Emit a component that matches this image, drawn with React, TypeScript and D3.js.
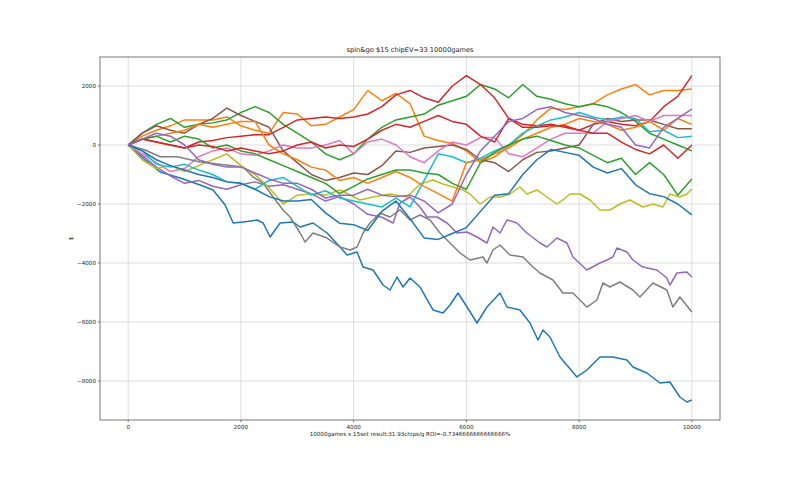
import React from "react";
import * as d3 from "d3";

const GAMES = [0,250,500,750,1000,1250,1500,1750,2000,2250,2500,2750,3000,3250,3500,3750,4000,4250,4500,4750,5000,5250,5500,5750,6000,6250,6500,6750,7000,7250,7500,7750,8000,8250,8500,8750,9000,9250,9500,9750,10000];

const BLUE_A_X = [0,300,567,922,1277,1507,1720,1862,2039,2287,2394,2518,2695,2926,3050,3280,3528,3759,3883,4060,4167,4344,4521,4645,4770,4876,5000,5177,5408,5585,5709,5851,6011,6188,6365,6596,6720,6950,7128,7270,7358,7482,7660,7961,8138,8369,8599,8848,8954,9202,9433,9610,9787,9911,10000];
const BLUE_A = [0,-510,-915,-1120,-1356,-1525,-2034,-2644,-2610,-2542,-2644,-3118,-2644,-2610,-2780,-2644,-2983,-3458,-3729,-3627,-4136,-4237,-4746,-4915,-4475,-4814,-4508,-4814,-5593,-5695,-5424,-5017,-5492,-6034,-5492,-5017,-5492,-5593,-6034,-6610,-6271,-6508,-7186,-7864,-7627,-7186,-7186,-7288,-7525,-7729,-8068,-8034,-8542,-8712,-8644];

const ORANGE_A = [0,300,500,650,850,850,850,950,650,500,400,1100,1050,650,700,950,1200,1850,1500,1750,1400,300,150,50,-200,-600,-400,-50,350,850,1250,1200,1300,1400,1700,1900,2050,1700,1850,1850,1900];
const GREEN_A = [0,400,700,900,600,700,750,850,1100,1300,1100,700,400,100,-300,-500,-300,200,600,850,950,1050,1350,1500,1650,2050,1900,1600,2050,1650,1550,1400,1300,1400,1300,1100,800,400,200,0,-200];
const RED_A = [0,200,100,0,-100,100,150,250,300,350,350,600,850,900,950,900,950,1050,1300,1700,1850,1600,1450,2000,2350,2050,1600,900,700,650,700,600,500,700,800,700,650,800,1300,1650,2350];

const PURPLE_A_X = [0,250,500,750,1000,1250,1500,1750,2000,2250,2500,2750,3000,3250,3500,3750,4000,4250,4500,4699,4823,5000,5177,5301,5479,5656,5833,6011,6188,6365,6472,6596,6720,6897,7074,7305,7429,7606,7784,7890,8138,8369,8493,8599,8670,8848,8954,9131,9379,9557,9610,9734,9911,10000];
const PURPLE_A = [0,-350,-750,-1050,-1300,-1200,-1400,-1500,-1350,-1250,-1400,-1350,-1500,-1650,-1900,-1750,-2000,-2350,-2450,-2644,-1966,-1763,-2102,-2441,-2441,-2644,-2983,-2949,-3119,-3322,-2780,-2983,-2542,-2644,-2983,-3322,-3458,-3153,-3322,-3797,-4237,-4000,-3898,-3797,-3492,-3627,-3898,-4136,-4237,-4508,-4746,-4339,-4305,-4475];

const BROWN = [0,400,650,500,400,700,900,1250,1000,800,600,-200,-600,-1000,-1200,-1100,-950,-1000,-700,-200,-250,-100,-50,0,-150,-500,-600,-900,-500,-250,-200,-100,0,700,900,800,850,850,700,550,550];
const PINK = [0,-300,-600,-900,-800,-400,-200,-100,-300,-350,-200,0,-100,-100,0,150,-300,100,200,0,-400,-600,-200,100,0,250,250,-300,-400,-100,200,400,400,400,800,900,1000,800,1000,1000,1000];

const GRAY_X = [0,300,567,870,1277,2039,2216,2394,2571,2748,2872,3050,3138,3280,3528,3759,3936,4060,4167,4291,4468,4645,4823,5000,5177,5355,5532,5709,5887,6064,6294,6365,6472,6596,6773,7004,7181,7305,7535,7713,7890,8138,8316,8422,8546,8723,8954,9078,9309,9557,9663,9787,10000];
const GRAY = [0,-170,-400,-400,-576,-746,-1085,-1288,-1763,-2203,-2441,-2983,-3288,-2983,-3153,-3458,-3559,-3458,-2983,-2644,-2305,-2441,-2203,-2542,-2373,-2542,-2983,-3322,-3661,-3898,-3797,-4000,-3559,-3390,-3729,-3797,-4136,-4339,-4576,-5017,-5017,-5492,-5254,-4678,-4814,-4644,-4915,-5153,-4678,-4915,-5492,-5153,-5661];

const OLIVE_X = [0,250,500,750,1000,1250,1500,1750,2000,2250,2500,2750,3000,3250,3500,3759,4113,4344,4645,4947,5177,5408,5585,5762,5940,6064,6241,6418,6596,6773,6950,7074,7252,7429,7606,7713,7837,8014,8191,8369,8546,8723,8900,9131,9309,9486,9610,9787,9911,10000];
const OLIVE = [0,-500,-800,-700,-900,-700,-500,-300,-700,-1000,-1450,-2000,-1700,-1650,-1700,-1525,-1864,-1763,-1661,-1763,-1322,-1186,-1322,-1424,-1525,-1661,-2000,-1763,-1763,-1661,-1424,-1661,-1525,-1763,-2000,-1864,-1661,-1661,-1864,-2203,-2203,-2000,-1864,-2102,-2000,-2102,-1661,-1763,-1661,-1492];

const CYAN = [0,-200,-650,-750,-650,-850,-1000,-1250,-1300,-1500,-1200,-1100,-1400,-1700,-1550,-1800,-1900,-2000,-2100,-1800,-2100,-1200,-300,-400,-600,-450,-200,0,400,650,850,950,1100,950,850,950,900,450,500,250,300];
const BLUE_B = [0,-200,-500,-700,-850,-1000,-1100,-1250,-1300,-1500,-1750,-1900,-1900,-1850,-2300,-2650,-2700,-2900,-2250,-1900,-2500,-3150,-3200,-3000,-2800,-2250,-1700,-1650,-1000,-500,-150,-250,-350,-750,-950,-800,-1350,-1650,-1750,-2000,-2370];
const ORANGE_B = [0,200,300,400,500,700,600,700,800,800,0,-300,-500,-750,-850,-1200,-1100,-1300,-1100,-900,-1100,-1400,-1650,-1900,-600,-500,-300,-100,200,400,600,700,900,800,700,500,600,800,500,900,700];
const GREEN_B = [0,200,300,100,300,200,-100,0,-200,-300,-500,-700,-900,-1100,-1300,-1650,-1400,-1150,-1000,-850,-850,-950,-1000,-1300,-1500,-600,-250,0,200,300,150,0,-100,-350,-600,-450,-1000,-600,-1000,-1700,-1150];
const RED_B = [0,200,100,0,-100,0,-50,-200,-100,-200,-300,-200,0,100,-100,0,-50,200,500,700,600,800,1000,800,700,300,100,900,600,600,650,650,500,400,400,100,-150,-300,0,-450,0];
const PURPLE_B = [0,200,400,300,0,-500,-650,-750,-750,-950,-1150,-1300,-1300,-1500,-1800,-1700,-1700,-1500,-1700,-1750,-1700,-1900,-2300,-2000,-1000,-200,300,800,900,1200,1300,1100,1000,900,700,600,0,-100,600,900,1220];

const SERIES: [number[], number[]][] = [
  [BLUE_A_X, BLUE_A], [GAMES, ORANGE_A], [GAMES, GREEN_A], [GAMES, RED_A], [PURPLE_A_X, PURPLE_A],
  [GAMES, BROWN], [GAMES, PINK], [GRAY_X, GRAY], [OLIVE_X, OLIVE], [GAMES, CYAN],
  [GAMES, BLUE_B], [GAMES, ORANGE_B], [GAMES, GREEN_B], [GAMES, RED_B], [GAMES, PURPLE_B],
];
const COLORS = ["#1f77b4","#ff7f0e","#2ca02c","#d62728","#9467bd","#8c564b","#e377c2","#7f7f7f","#bcbd22","#17becf"];

const X_TICKS = [0, 2000, 4000, 6000, 8000, 10000];
const Y_TICKS = [-8000, -6000, -4000, -2000, 0, 2000];

const TITLE = "spin&go $15 chipEV=33 10000games";
const X_LABEL = "10000games x 15set result:31.93chips/g ROI=-0.7346666666666666%";
const Y_LABEL = "$";

export default function App() {
  const left = 100, right = 720, top = 57, bottom = 420;
  const x = d3.scaleLinear().domain([-500, 10499]).range([left, right]);
  const y = d3.scaleLinear().domain([-9322, 2983]).range([bottom, top]);
  const font = "DejaVu Sans, sans-serif";
  const makeLine = (xs: number[]) => d3.line<number>().x((_, i) => x(xs[i])).y((d) => y(d));
  return (
    <svg width={800} height={480} style={{ position: "fixed", left: 0, top: 0, background: "#fff" }}>
      <rect x={0} y={0} width={800} height={480} fill="#fff" />
      {X_TICKS.map((t) => (
        <line key={"gx" + t} x1={x(t)} x2={x(t)} y1={top} y2={bottom} stroke="#d4d4d4" strokeWidth={0.8} />
      ))}
      {Y_TICKS.map((t) => (
        <line key={"gy" + t} x1={left} x2={right} y1={y(t)} y2={y(t)} stroke="#d4d4d4" strokeWidth={0.8} />
      ))}
      <g>
        {SERIES.map(([xs, vs], i) => (
          <path key={i} d={makeLine(xs)(vs) || ""} fill="none" stroke={COLORS[i % 10]} strokeWidth={1.5} strokeLinejoin="round" />
        ))}
      </g>
      <rect x={left} y={top} width={right - left} height={bottom - top} fill="none" stroke="#555" strokeWidth={0.8} />
      {X_TICKS.map((t) => (
        <g key={"tx" + t}>
          <line x1={x(t)} x2={x(t)} y1={bottom} y2={bottom + 2.2} stroke="#555" strokeWidth={0.8} />
          <text x={x(t)} y={bottom + 8.5} fontSize={5.6} fontFamily={font} textAnchor="middle" fill="#222">{t}</text>
        </g>
      ))}
      {Y_TICKS.map((t) => (
        <g key={"ty" + t}>
          <line x1={left - 2.2} x2={left} y1={y(t)} y2={y(t)} stroke="#555" strokeWidth={0.8} />
          <text x={left - 4} y={y(t) + 2} fontSize={5.6} fontFamily={font} textAnchor="end" fill="#222">{t < 0 ? "\u2212" + Math.abs(t) : String(t)}</text>
        </g>
      ))}
      <text x={(left + right) / 2} y={top - 5} fontSize={6.7} fontFamily={font} textAnchor="middle" fill="#222">{TITLE}</text>
      <text x={(left + right) / 2} y={bottom + 15.5} fontSize={5.6} fontFamily={font} textAnchor="middle" fill="#222">{X_LABEL}</text>
      <text transform={`translate(${73},${(top + bottom) / 2}) rotate(-90)`} fontSize={5.6} fontFamily={font} textAnchor="middle" fill="#222">{Y_LABEL}</text>
    </svg>
  );
}
